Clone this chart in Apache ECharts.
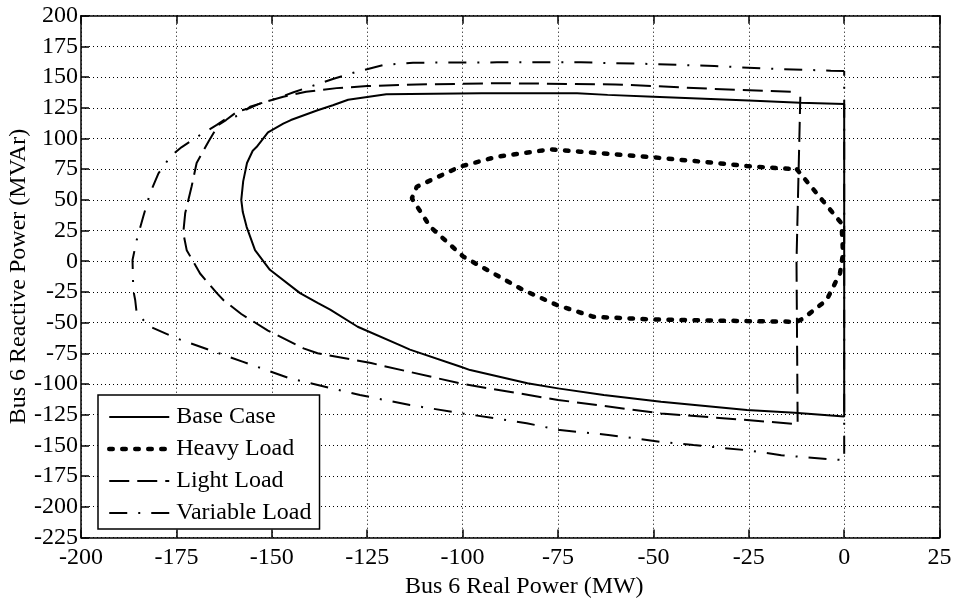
<!DOCTYPE html>
<html>
<head>
<meta charset="utf-8">
<script src="https://cdn.jsdelivr.net/npm/echarts@6/dist/echarts.min.js"></script>
<style>
html,body{margin:0;padding:0;background:#fff;}
#chart{width:958px;height:601px;}
</style>
</head>
<body>
<div id="chart"></div>
<script>
// ---- data (MW, MVAr) ----
var seriesNames = ['Base Case', 'Heavy Load', 'Light Load', 'Variable Load'];

var baseCase = [
  [0,128],[-11.5,129],[-25,131],[-50,134],[-62,135.5],[-70,136.8],[-95,136.8],[-120,136],
  [-130,131.5],[-134,127],[-138,123],[-145,115],[-147,112],[-151,105],[-154,93],[-155,90],
  [-156.5,80],[-157.5,65],[-158,50],[-157.6,40],[-156.6,28],[-154.4,9],[-150.5,-7],
  [-142.6,-26],[-138,-34],[-134.7,-39.5],[-127.5,-53.4],[-116,-69],[-113.8,-72],
  [-100.5,-86],[-98,-88.7],[-83,-99.5],[-75,-103.6],[-63,-109],[-48,-114.5],
  [-25.5,-121.3],[-13,-123.5],[0,-126.5],[0,128]
];

var heavyLoad = [
  [-12.4,74.8],[-0.7,30.8],[-0.3,6.4],[-1.1,-9.9],[-4.6,-31.6],[-10.7,-46.6],[-12.4,-49.3],
  [-25.5,-48.8],[-50.4,-47.4],[-65.7,-45.3],[-75.3,-35.7],[-84.1,-23.5],[-99.8,3.7],
  [-108.5,28.1],[-113.3,51.2],[-112,60.7],[-100.7,77],[-91,85.1],[-77.1,91.1],[-69.2,89.2],
  [-50,84.6],[-34.3,80.2],[-25.5,77.5],[-12.4,74.8]
];

var lightLoad = [
  [-14,138],[-34,140.3],[-50,142.7],[-60,144],[-90,145],[-112,144],[-125,142.7],[-133,141],
  [-141,138],[-147,134],[-153,128.6],[-156,124.5],[-159,122],[-162,115],[-164,111],
  [-166.5,98],[-169.7,80],[-171,61],[-172.7,39],[-173.2,23],[-172.3,9],[-168.8,-10],
  [-164.4,-26],[-162.7,-31.6],[-158,-43],[-151,-56.5],[-141.7,-71],[-138,-75],[-124,-83],
  [-100,-100],[-75,-113],[-48,-124],[-25.5,-129.4],[-12.2,-132.7],[-12.5,0],[-11.5,134]
];

var variableLoad = [
  [0,155],[-3.5,155.2],[-21,157],[-34,159],[-50,160.6],[-69,162],[-91,162],[-113,161.7],
  [-120.7,159.8],[-127.7,154.4],[-134,148.4],[-144.3,137.6],[-148.7,132.7],[-155.7,125.9],
  [-158.3,119],[-162,116],[-164.4,111],[-168.8,102.8],[-173.6,93],[-176.7,85],[-178.4,77],
  [-179.7,71.6],[-181.9,55.3],[-183.7,36.2],[-185.4,17.2],[-186.5,1],[-186.3,-23.5],
  [-185.8,-31.6],[-185.4,-42.5],[-181.9,-53.4],[-174.9,-62.9],[-157.5,-82],[-145.2,-95.5],
  [-126.9,-109],[-113.8,-117.2],[-100,-124],[-83.2,-132],[-74.5,-137.6],[-61.3,-141.7],
  [-48.2,-147.1],[-39.5,-149.8],[-25.5,-154],[-16.5,-158],[-4.6,-161.2],[0,-162],[0,155]
];

var xTicks = {min: -200, max: 25, step: 25};
var yTicks = {min: -225, max: 200, step: 25};
var xTitle = 'Bus 6 Real Power (MW)';
var yTitle = 'Bus 6 Reactive Power (MVAr)';

// ---- chart ----
var FONT = '"Liberation Serif", "Times New Roman", serif';
var FS = 24;
var chart = echarts.init(document.getElementById('chart'), null, {renderer: 'canvas'});

var styles = [
  {color: '#000', width: 2, type: 'solid'},
  {color: '#000', width: 4.5, type: [3.5, 9.5], cap: 'round'},
  {color: '#000', width: 2, type: [20, 8]},
  {color: '#000', width: 2, type: [18, 11, 2, 11]}
];

function axisCommon(showLabels, margin) {
  return {
    axisLine: {show: true, onZero: false, lineStyle: {color: '#000', width: 1.5}},
    axisTick: {show: true, inside: true, length: 8, lineStyle: {color: '#000', width: 1.5}},
    axisLabel: {show: showLabels, color: '#000', fontFamily: FONT, fontSize: FS, margin: margin},
    minorTick: {show: false}
  };
}

var gridLine = {show: true, lineStyle: {color: '#000', width: 1, type: [1, 3]}};

var option = {
  backgroundColor: '#fff',
  animation: false,
  grid: {left: 81, right: 18.4, top: 15.7, bottom: 63.6, containLabel: false, outerBoundsMode: 'none'},
  xAxis: [
    Object.assign({
      type: 'value', position: 'bottom',
      min: xTicks.min, max: xTicks.max, interval: xTicks.step,
      name: xTitle, nameLocation: 'middle', nameGap: 37, nameMoveOverlap: false,
      nameTextStyle: {color: '#000', fontFamily: FONT, fontSize: FS, padding: [0, 0, 0, 28]},
      splitLine: gridLine
    }, axisCommon(true, 8)),
    Object.assign({
      type: 'value', position: 'top',
      min: xTicks.min, max: xTicks.max, interval: xTicks.step,
      splitLine: {show: false}
    }, axisCommon(false, 8))
  ],
  yAxis: [
    Object.assign({
      type: 'value', position: 'left',
      min: yTicks.min, max: yTicks.max, interval: yTicks.step,
      name: yTitle, nameLocation: 'middle', nameGap: 50, nameMoveOverlap: false,
      nameTextStyle: {color: '#000', fontFamily: FONT, fontSize: FS},
      splitLine: gridLine
    }, axisCommon(true, 3)),
    Object.assign({
      type: 'value', position: 'right',
      min: yTicks.min, max: yTicks.max, interval: yTicks.step,
      splitLine: {show: false}
    }, axisCommon(false, 8))
  ],
  legend: {
    show: true,
    orient: 'vertical',
    left: 98, top: 395,
    padding: [10, 8, 4, 9],
    itemGap: 8,
    itemWidth: 60, itemHeight: 24,
    backgroundColor: '#fff',
    borderColor: '#000', borderWidth: 1.5, borderRadius: 0,
    itemStyle: {opacity: 0},
    textStyle: {color: '#000', fontFamily: FONT, fontSize: FS, padding: [0, 0, 0, 2]},
    data: seriesNames.map(function (n, i) { return {name: n, lineStyle: styles[i]}; })
  },
  series: seriesNames.map(function (n, i) {
    return {
      name: n, type: 'line', symbol: 'none', smooth: false,
      data: [baseCase, heavyLoad, lightLoad, variableLoad][i],
      itemStyle: {color: '#000'},
      lineStyle: styles[i],
      z: i === 1 ? 5 : (i === 0 ? 4 : 3)
    };
  })
};
chart.setOption(option);
</script>
</body>
</html>
